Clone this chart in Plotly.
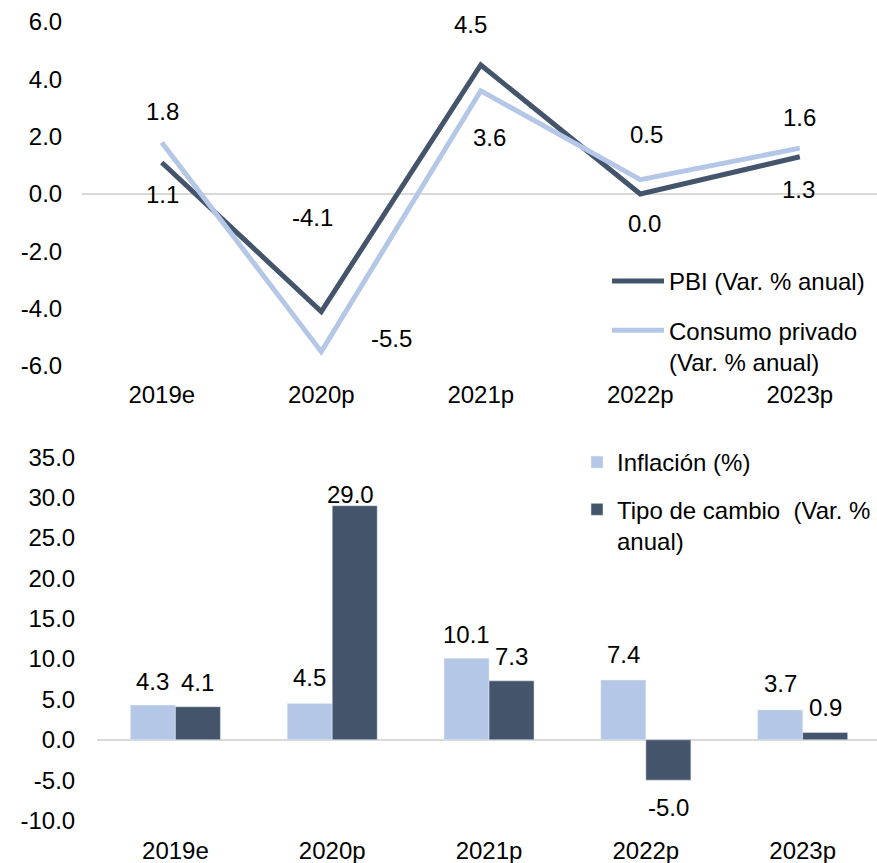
import plotly.graph_objects as go

# ---------------- data ----------------
categories = ["2019e", "2020p", "2021p", "2022p", "2023p"]
pbi = [1.1, -4.1, 4.5, 0.0, 1.3]
consumo = [1.8, -5.5, 3.6, 0.5, 1.6]
inflacion = [4.3, 4.5, 10.1, 7.4, 3.7]
tipo_cambio = [4.1, 29.0, 7.3, -5.0, 0.9]
yticks_top = [-6, -4, -2, 0, 2, 4, 6]
yticks_bottom = [-10, -5, 0, 5, 10, 15, 20, 25, 30, 35]

# label offsets (pixels) – styling only
pbi_off = [(1, -32), (-9, 94), (-10, 41), (4, -29), (-1, -33)]
con_off = [(1, 31), (70, 13), (9, -47), (6, 45), (0, 31)]
inf_off = [(0, 24), (0, 26), (0, 24), (0, 26), (0, 26)]
tc_off = [(0, 24), (-4, 11), (0, 24), (0, -27), (0, 25)]

DARK = "#44546A"
LIGHT = "#B4C7E7"
FONT = "Arial, 'Liberation Sans', sans-serif"
FS = 24
W, H = 877, 863


def fmt(v):
    return f"{v:.1f}"


fig = go.Figure()

fig.add_trace(go.Scatter(x=categories, y=pbi, mode="lines", name="PBI (Var. % anual)",
                         line=dict(color=DARK, width=5), xaxis="x", yaxis="y",
                         legend="legend", legendgroup="a"))
fig.add_trace(go.Scatter(x=categories, y=consumo, mode="lines",
                         name="Consumo privado<br>(Var. % anual)",
                         line=dict(color=LIGHT, width=5), xaxis="x", yaxis="y",
                         legend="legend", legendgroup="b"))

fig.add_trace(go.Bar(x=categories, y=inflacion, name="Inflación (%)", marker_color=LIGHT,
                     xaxis="x2", yaxis="y2", legend="legend2", legendgroup="c"))
fig.add_trace(go.Bar(x=categories, y=tipo_cambio, name="Tipo de cambio \u00a0(Var. %<br>anual)",
                     marker_color=DARK, xaxis="x2", yaxis="y2", legend="legend2", legendgroup="d"))

BARGAP = 0.426
half = (1 - BARGAP) / 4
lab_font = dict(size=FS, color="#000000", family=FONT)

annotations = []
for i, c in enumerate(categories):
    for vals, offs in ((pbi, pbi_off), (consumo, con_off)):
        annotations.append(dict(x=c, y=vals[i], xref="x", yref="y", text=fmt(vals[i]),
                                showarrow=False, xshift=offs[i][0], yshift=offs[i][1],
                                font=lab_font))
    annotations.append(dict(x=i - half, y=inflacion[i], xref="x2", yref="y2",
                            text=fmt(inflacion[i]), showarrow=False,
                            xshift=inf_off[i][0], yshift=inf_off[i][1], font=lab_font))
    annotations.append(dict(x=i + half, y=tipo_cambio[i], xref="x2", yref="y2",
                            text=fmt(tipo_cambio[i]), showarrow=False,
                            xshift=tc_off[i][0], yshift=tc_off[i][1], font=lab_font))

axis_common = dict(showgrid=False, showline=False, automargin=False,
                   tickfont=dict(size=FS, color="#000000", family=FONT))

fig.update_layout(
    width=W, height=H,
    margin=dict(l=0, r=0, t=0, b=0),
    paper_bgcolor="white", plot_bgcolor="white",
    font=dict(family=FONT, size=FS, color="#000000"),
    barmode="group", bargap=BARGAP, bargroupgap=0,
    annotations=annotations,
    xaxis=dict(domain=[82 / W, 1], anchor="y", type="category", range=[-0.5, 4.484],
               zeroline=False, ticks="outside", ticklen=0, ticklabelstandoff=7, **axis_common),
    yaxis=dict(domain=[1 - 366 / H, 1 - 22 / H], anchor="x", range=[-6, 6],
               tickvals=yticks_top, ticktext=[fmt(v) for v in yticks_top],
               zeroline=True, zerolinecolor="#D9D9D9", zerolinewidth=2,
               ticks="outside", ticklen=0, ticklabelstandoff=14, **axis_common),
    xaxis2=dict(domain=[97 / W, 1], anchor="y2", type="category", range=[-0.5, 4.474],
                zeroline=False, ticks="outside", ticklen=0, ticklabelstandoff=9, **axis_common),
    yaxis2=dict(domain=[1 - 820.5 / H, 1 - 457.3 / H], anchor="x2", range=[-10, 35],
                tickvals=yticks_bottom, ticktext=[fmt(v) for v in yticks_bottom],
                zeroline=True, zerolinecolor="#D9D9D9", zerolinewidth=2,
                ticks="outside", ticklen=0, ticklabelstandoff=16, **axis_common),
    legend=dict(x=607 / W, y=1 - 259 / H, xanchor="left", yanchor="top",
                font=dict(size=FS, color="#000000", family=FONT), itemwidth=52,
                traceorder="grouped", tracegroupgap=15, valign="top",
                bgcolor="rgba(0,0,0,0)"),
    legend2=dict(x=577 / W, y=1 - 440 / H, xanchor="left", yanchor="top",
                 font=dict(size=FS, color="#000000", family=FONT),
                 traceorder="grouped", tracegroupgap=13, valign="top",
                 bgcolor="rgba(0,0,0,0)"),
)

fig.write_html("out.html", config={"displayModeBar": False},
               post_script="document.body.style.margin='0';document.body.style.padding='0';")
